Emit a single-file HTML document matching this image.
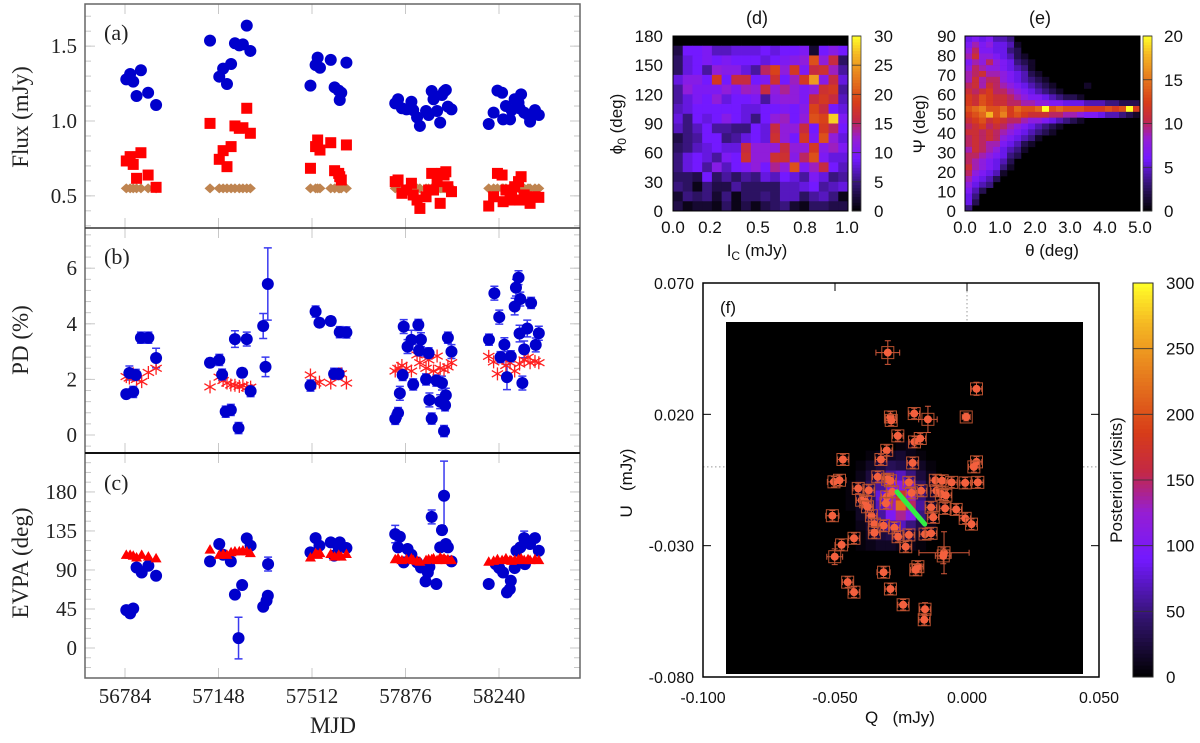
<!DOCTYPE html>
<html><head><meta charset="utf-8">
<style>
html,body{margin:0;padding:0;background:#fff;}
svg{display:block;}
.sr{font-family:"Liberation Serif",serif;fill:#222;}
.ss{font-family:"Liberation Sans",sans-serif;fill:#111;}
</style></head>
<body>
<svg id="fig" width="1200" height="743" viewBox="0 0 1200 743" xmlns="http://www.w3.org/2000/svg"></svg>
<script>
// ---------------- Data: panel (a) flux ----------------
const fluxMjd = [56789,56804,56816,56829,56846,56874,56905,
 57115,57151,57166,57181,57197,57212,57229,57243,57258,57272,
 57506,57526,57534,57543,57585,57600,57616,57626,57620,57646,
 57836,57847,57862,57880,57899,57906,57921,57932,57956,57966,57978,57985,57999,58011,58018,58026,58033,58041,58055,
 58200,58219,58234,58252,58256,58267,58283,58289,58301,58316,58326,58338,58353,58361,58380,58395,58320];
const fluxBlue = [1.278,1.314,1.263,1.167,1.339,1.189,1.107,
 1.537,1.296,1.35,1.247,1.381,1.519,1.505,1.512,1.637,1.468,
 1.236,1.374,1.423,1.356,1.408,1.225,1.203,1.189,1.14,1.39,
 1.118,1.145,1.085,1.078,1.129,1.073,1.024,0.967,1.067,1.04,1.2,1.145,1.067,0.989,1.174,1.196,1.207,1.096,1.078,
 0.98,1.056,1.203,1.189,1.011,1.1,1.011,1.073,1.145,1.122,1.178,1.056,1.04,0.996,1.073,1.04,1.085];
const fluxRed = [0.733,0.762,0.71,0.617,0.788,0.639,0.557,
 0.984,0.744,0.802,0.695,0.829,0.967,0.951,0.955,1.085,0.918,
 0.684,0.829,0.873,0.806,0.855,0.668,0.65,0.606,0.628,0.84,
 0.595,0.606,0.517,0.539,0.584,0.506,0.472,0.416,0.494,0.539,0.65,0.539,0.595,0.45,0.65,0.639,0.661,0.561,0.528,
 0.432,0.494,0.65,0.639,0.461,0.539,0.472,0.528,0.561,0.595,0.628,0.506,0.483,0.45,0.494,0.49,0.472];
const fluxDiamond = [0.55,0.55,0.55,0.55,0.55,0.55,0.55,
 0.55,0.55,0.55,0.55,0.55,0.55,0.55,0.55,0.55,0.55,
 0.55,0.55,0.55,0.55,0.55,0.55,0.55,0.55,0.55,0.55,
 0.55,0.55,0.55,0.55,0.55,0.55,0.55,0.55,0.55,0.55,0.55,0.55,0.55,0.55,0.55,0.55,0.55,0.55,0.55,
 0.55,0.55,0.55,0.55,0.55,0.55,0.55,0.55,0.55,0.55,0.55,0.55,0.55,0.55,0.55,0.55,0.55];
// ---------------- panel (b) PD ----------------
const pdMjd = [56846,56875,56905,56789,56816,56801,56826,
 57115,57151,57212,57258,57322,57340,57331,57162,57176,57196,57226,57240,57273,
 57526,57541,57585,57620,57646,57506,57598,57616,
 57869,57884,57899,57926,57936,57929,57966,58041,58055,57836,57847,57854,57865,57906,57956,57969,57978,57996,58018,58011,58030,58033,58026,
 58201,58222,58241,58261,58246,58286,58301,58306,58316,58323,58320,58350,58338,58365,58383,58395,58271,58331];
const pdBlue = [3.5,3.5,2.77,1.47,1.55,2.23,2.16,
 2.6,2.7,3.45,3.45,3.92,5.43,2.45,2.17,0.84,0.9,0.25,2.24,1.58,
 4.44,4.04,4.1,3.7,3.69,1.78,2.2,2.2,
 3.9,3.18,3.42,3.96,3.43,3.04,2.94,3.5,3.0,0.58,0.79,1.5,2.16,1.82,2.0,1.26,0.59,1.96,1.87,1.2,1.07,1.43,0.14,
 3.43,5.1,4.24,3.25,2.8,2.83,4.62,5.3,5.66,4.89,3.65,3.83,3.08,4.75,3.24,3.66,2.08,1.87];
const pdErr = [0.2,0.2,0.35,0.12,0.2,0.25,0.2,
 0.15,0.2,0.3,0.25,0.45,1.3,0.35,0.2,0.2,0.2,0.2,0.15,0.2,
 0.2,0.15,0.15,0.2,0.2,0.2,0.2,0.2,
 0.25,0.25,0.35,0.2,0.25,0.2,0.2,0.2,0.25,0.2,0.2,0.25,0.2,0.2,0.2,0.25,0.2,0.2,0.25,0.25,0.2,0.25,0.2,
 0.2,0.25,0.25,0.25,0.2,0.2,0.3,0.3,0.25,0.25,0.3,0.3,0.3,0.2,0.25,0.25,0.45,0.25];
const starMjd = [56789,56801,56816,56829,56849,56875,56905,
 57115,57151,57166,57181,57196,57212,57229,57243,57258,57273,
 57506,57526,57541,57585,57600,57616,57626,57646,
 57836,57847,57862,57880,57899,57921,57932,57956,57966,57985,57999,58011,58026,58041,58055,
 58200,58219,58234,58252,58267,58283,58301,58320,58338,58353,58361,58380,58395];
const starPd = [2.1,2.05,2.2,2.0,1.92,2.25,2.4,
 1.73,2.08,1.96,1.87,1.8,1.79,1.75,1.78,1.7,1.72,
 2.16,1.87,1.9,1.87,2.16,2.2,2.2,1.87,
 2.3,2.4,2.5,2.4,2.3,2.88,2.6,2.4,2.7,2.3,2.84,2.4,2.35,2.45,2.6,
 2.83,2.63,2.2,2.75,2.5,2.6,2.3,2.55,2.7,2.8,2.6,2.65,2.6];
// ---------------- panel (c) EVPA ----------------
const evMjd = [56789,56804,56816,56829,56849,56875,56905,
 57115,57151,57166,57196,57212,57226,57240,57258,57273,57322,57335,57340,57341,
 57506,57526,57541,57585,57598,57616,57620,57646,
 57836,57847,57854,57869,57884,57899,57921,57936,57954,57963,57969,57978,57996,58011,58018,58026,58033,58041,58055,
 58200,58227,58241,58256,58271,58282,58286,58301,58308,58323,58341,58338,58361,58380,58395];
const evBlue = [43.7,39.9,45.6,92.9,87.1,94.8,83.3,
 99.9,119.9,107.6,99.9,61.5,11.4,72.6,126.4,118,47.6,54.5,60.3,96.8,
 110.3,126.8,118,121.8,106.5,115.3,121.8,115.3,
 131.4,116,128.3,98.7,114.2,107.6,98.7,92.9,76.8,87.1,93.6,151.2,73.8,116,136,175.6,119.9,116,99.9,
 73.8,96.8,92.2,87.1,64.1,67.9,77.5,92.2,112.2,116,96.8,126.8,119.9,126.8,112.2];
const evErr = [3,3,3,3,3,3,4,
 3,3,3,4,3,24,3,3,3,3,3,3,8,
 3,3,3,3,3,3,3,3,
 10,4,4,3,4,3,3,3,3,3,4,8,3,4,5,40,4,3,3,
 3,3,3,3,5,4,3,3,3,3,3,8,3,3,3];
const triMjd = [56789,56804,56816,56829,56849,56875,56905,
 57115,57151,57166,57181,57197,57212,57229,57243,57258,57272,
 57506,57526,57534,57543,57585,57600,57616,57626,57646,
 57836,57847,57862,57880,57899,57906,57921,57932,57956,57966,57978,57985,57999,58011,58018,58026,58033,58041,58055,
 58200,58219,58234,58252,58267,58283,58289,58301,58316,58326,58338,58353,58361,58380,58395];
const triEv = [108,108,107,105,108,106,104,
 114,108,109,108,111,112,112,113,112,110,
 105,110,108,110,109,106,108,106,109,
 103,104,102,103,104,102,101,100,102,103,103,104,102,105,103,104,102,103,102,
 100,101,103,102,104,102,101,102,103,104,102,103,102,103,102];
// ---------------- panel (d) heatmap (rows top->bottom, phi0 170..0) ----------------
const dRows = [
 [0,0,0,0,0,0,0,0,0,0,0,0,0,0,0,0,0,0],
 [3,9,9,10,7,7,8,8,8,9,8,9,9,10,2,9,11,9],
 [4,8,9,10,9,10,9,9,9,8,9,10,11,12,20,12,16,4],
 [4,8,9,6,12,11,11,8,6,15,19,12,18,10,16,17,13,6],
 [8,11,11,9,18,9,16,16,9,10,17,9,13,18,25,11,16,8],
 [6,12,10,10,10,12,10,13,12,16,12,14,12,10,12,17,18,6],
 [6,8,10,9,12,8,9,9,10,6,11,12,12,10,16,18,16,7],
 [7,8,9,9,9,9,9,8,8,9,9,10,9,11,19,16,9,8],
 [8,5,9,8,9,11,9,8,5,9,12,13,9,12,20,19,28,10],
 [7,5,7,9,6,6,5,5,9,8,16,12,12,16,9,18,15,9],
 [3,5,6,9,9,5,6,8,9,8,17,12,9,18,10,20,12,8],
 [4,5,7,8,9,8,8,16,12,12,12,16,12,12,18,11,13,10],
 [5,8,9,8,6,10,9,17,12,12,17,17,11,15,20,10,8,8],
 [5,8,9,6,11,7,9,10,12,9,14,12,20,10,13,16,9,7],
 [4,4,3,9,4,6,4,6,5,8,7,9,8,6,10,8,5,6],
 [5,4,1,5,3,3,6,4,4,4,4,7,7,8,9,6,7,8],
 [2,5,4,5,2,5,1,4,4,5,4,7,7,4,6,7,5,1],
 [3,1,2,2,1,4,1,3,1,3,4,5,2,1,4,4,3,3]];
// ---------------- panel (e) heatmap: base-21 digits, rows top (Psi 87) -> bottom (0) ----------------
const eRows = [
 "5656443000000000000000000","6867554100000000000000000","7966553200000000000000000",
 "8a77654210000000000000000","6879765321000000000000000","7987765431000000000000000",
 "89a8876542100000000000000","8a89976543210000000000000","9a8a987654321000010000000",
 "a9ab998765432100000000000","bacbaa9876654322100000000","bacbaa9988776655544433222",
 "cdeccdbdccdkcdcccbbbcbckb","bcdgcebcbaaa9988766544321","abcaba9987765432100000000",
 "9ab9a98765432100000000000","aa9a987654321000000000000","9a9a976543100000000000000",
 "9a98865421000000000000000","8a98754310000000000000000","9987653200000000000000000",
 "9876542000000000000000000","a876531000000000000000000","9765410000000000000000000",
 "8654200000000000000000000","7543000000000000000000000","6420000000000000000000000",
 "5300000000000000000000000","5200000000000000000000000","3000000000000000000000000"];
// ---------------- panel (f) ----------------
const qVals = [-0.030,0.0036,-0.020,-0.0148,-0.0003,-0.029,-0.0287,-0.0262,-0.0199,-0.0177,-0.0304,-0.047,-0.0326,-0.0206,0.0036,0.0026,
 -0.0504,-0.0483,-0.0338,-0.0301,-0.029,-0.022,-0.012,-0.0094,-0.0058,-0.0007,0.0041,-0.0412,-0.0372,-0.0174,-0.0116,-0.0097,-0.008,
 -0.0399,-0.0384,-0.0304,-0.0307,-0.0283,-0.021,-0.0136,-0.0083,-0.0041,-0.0007,0.0017,-0.051,-0.0362,-0.0377,-0.0351,-0.0316,-0.0275,
 -0.0351,-0.0261,-0.022,-0.0159,-0.0136,-0.0128,-0.0232,-0.0428,-0.0475,-0.0501,-0.0087,-0.009,-0.0316,-0.0186,-0.0194,-0.0452,-0.0428,-0.029,-0.0242,-0.0159,-0.0162];
const uVals = [0.0435,0.0297,0.0203,0.0181,0.019,0.019,0.0177,0.0118,0.0095,0.0108,0.0063,0.0028,0.0028,0.0015,0.0019,0.0,
 -0.0057,-0.0051,-0.0038,-0.0047,-0.0053,-0.0059,-0.0051,-0.0053,-0.0059,-0.0061,-0.0059,-0.0082,-0.0089,-0.0091,-0.0091,-0.0104,-0.0108,
 -0.0127,-0.0133,-0.0114,-0.0139,-0.0095,-0.0099,-0.0154,-0.0158,-0.0162,-0.0196,-0.0218,-0.0186,-0.0186,-0.0152,-0.0218,-0.0224,-0.0232,
 -0.0251,-0.0266,-0.0259,-0.0256,-0.0253,-0.0192,-0.0304,-0.0272,-0.0297,-0.0342,-0.0327,-0.0339,-0.0401,-0.038,-0.0392,-0.0439,-0.0477,-0.0465,-0.0525,-0.0542,-0.0582];
const qErr = [0.0045,0.002,0.002,0.0035,0.0015,0.002,0.002,0.002,0.002,0.002,0.002,0.002,0.002,0.002,0.002,0.002,
 0.0025,0.0025,0.002,0.002,0.002,0.002,0.002,0.002,0.002,0.002,0.002,0.002,0.002,0.002,0.002,0.002,0.002,
 0.002,0.002,0.002,0.002,0.002,0.002,0.002,0.002,0.002,0.002,0.002,0.0025,0.002,0.002,0.002,0.002,0.002,
 0.002,0.002,0.002,0.002,0.002,0.002,0.002,0.002,0.0025,0.003,0.0095,0.003,0.0025,0.002,0.002,0.002,0.002,0.002,0.002,0.002,0.002];
const uErr = [0.0045,0.0025,0.002,0.005,0.0015,0.002,0.002,0.002,0.002,0.002,0.002,0.002,0.002,0.002,0.002,0.002,
 0.002,0.002,0.002,0.002,0.002,0.002,0.002,0.002,0.002,0.002,0.002,0.002,0.002,0.002,0.002,0.002,0.002,
 0.002,0.002,0.002,0.002,0.002,0.002,0.002,0.002,0.002,0.002,0.002,0.002,0.002,0.002,0.002,0.002,0.002,
 0.002,0.002,0.002,0.002,0.002,0.002,0.002,0.002,0.002,0.003,0.008,0.003,0.002,0.002,0.002,0.002,0.002,0.002,0.002,0.0025,0.002];
const trackQ = [-0.0265,-0.016];
const trackU = [-0.0095,-0.0218];
const postQ0 = -0.046, postDQ = 0.0038, postU0 = 0.010, postDU = 0.0038;
const postRows = [
 [0,0,0,0,0,5,10,0,0,0],[0,0,5,10,15,20,10,5,0,0],[0,5,15,25,35,30,25,15,5,0],
 [0,10,25,40,60,70,50,25,10,0],[5,15,35,60,90,110,80,40,15,5],[5,20,40,80,120,170,120,50,20,5],
 [5,15,40,70,130,220,150,60,20,5],[0,15,30,60,100,140,110,50,15,0],[0,10,20,40,60,70,50,30,10,0],
 [0,5,15,25,30,35,25,15,5,0],[0,5,10,15,15,10,10,5,0,0]];

// ================= drawing =================
const NS = "http://www.w3.org/2000/svg";
const svg = document.getElementById('fig');
function el(tag, attrs, parent) {
  const e = document.createElementNS(NS, tag);
  for (const k in attrs) e.setAttribute(k, attrs[k]);
  (parent || svg).appendChild(e);
  return e;
}
function txt(s, x, y, cls, size, anchor, parent, rot) {
  const t = el('text', {x: x, y: y, class: cls, 'font-size': size, 'text-anchor': anchor || 'middle'}, parent);
  if (rot) t.setAttribute('transform', 'rotate(-90 ' + x + ' ' + y + ')');
  t.textContent = s;
  return t;
}
const stops = [[0,[0,0,0]],[0.15,[50,20,110]],[0.3,[115,25,255]],[0.42,[150,30,210]],[0.52,[195,40,70]],[0.62,[215,60,25]],[0.78,[232,130,30]],[0.9,[245,185,35]],[1,[255,255,40]]];
function pal(t) {
  t = Math.max(0, Math.min(1, t));
  for (let i = 1; i < stops.length; i++) {
    if (t <= stops[i][0]) {
      const a = stops[i-1], b = stops[i], f = (t - a[0]) / (b[0] - a[0]);
      const c = a[1].map((v, j) => Math.round(v + (b[1][j] - v) * f));
      return 'rgb(' + c.join(',') + ')';
    }
  }
  return 'rgb(255,255,40)';
}

// ----- left panels -----
const X0 = 85, X1 = 580;
const xL = m => 125 + (m - 56784) * 0.25687;
const yA = f => 121 - (f - 1) * 149.7;
const yB = p => 435 - p * 27.8;
const yC = e => 648 - e * 0.867;
const panels = [
  {name:'flux-panel', top:4, bot:228, lab:'(a)', laby:40, ticks:[1.5,1.0,0.5], tl:['1.5','1.0','0.5'], fy:yA, minor:[0.3,1.7,0.1], title:'Flux (mJy)', ty:117},
  {name:'pd-panel', top:228, bot:453, lab:'(b)', laby:264, ticks:[6,4,2,0], tl:['6','4','2','0'], fy:yB, minor:[-0.8,7.2,0.4], title:'PD (%)', ty:340},
  {name:'evpa-panel', top:453, bot:678, lab:'(c)', laby:490, ticks:[180,135,90,45,0], tl:['180','135','90','45','0'], fy:yC, minor:[-33.75,225,11.25], title:'EVPA (deg)', ty:563}
];
const xTicks = [56784,57148,57512,57876,58240];
panels.forEach(p => {
  const g = el('g', {});
  
  
  for (let v = p.minor[0]; v <= p.minor[1] + 1e-9; v += p.minor[2]) {
    const y = p.fy(v);
    if (y <= p.top + 1 || y >= p.bot - 1) continue;
    el('line', {x1:X0, x2:X0+6, y1:y, y2:y, stroke:'#c8c8c8', 'stroke-width':1}, g);
    el('line', {x1:X1-6, x2:X1, y1:y, y2:y, stroke:'#c8c8c8', 'stroke-width':1}, g);
  }
  p.ticks.forEach((v, i) => {
    const y = p.fy(v);
    el('line', {x1:X0, x2:X0+10, y1:y, y2:y, stroke:'#c8c8c8', 'stroke-width':1}, g);
    el('line', {x1:X1-10, x2:X1, y1:y, y2:y, stroke:'#c8c8c8', 'stroke-width':1}, g);
    txt(p.tl[i], 77, y + 7, 'sr', 21, 'end', g);
  });
  xTicks.forEach(m => {
    const x = xL(m);
    el('line', {x1:x, x2:x, y1:p.bot, y2:p.bot-10, stroke:'#c8c8c8', 'stroke-width':1}, g);
    el('line', {x1:x, x2:x, y1:p.top, y2:p.top+10, stroke:'#c8c8c8', 'stroke-width':1}, g);
  });
  txt(p.lab, 104, p.laby, 'sr', 22, 'start', g);
  txt(p.title, 28, p.ty, 'sr', 23, 'middle', g, true);
});

// flux marks
const gFlux = el('g', {});


fluxMjd.forEach((m, i) => {
  const x = xL(m), yd = yA(fluxDiamond[i]);
  const d = el('path', {d:`M${x-5.5},${yd}L${x},${yd-5}L${x+5.5},${yd}L${x},${yd+5}Z`, fill:'#bf8450'}, gFlux);
  
  
});
fluxMjd.forEach((m, i) => {
  const x = xL(m), y = yA(fluxRed[i]);
  const r = el('rect', {x:x-5.5, y:y-5.5, width:11, height:11, fill:'#ff0000'}, gFlux);
  
  
});
fluxMjd.forEach((m, i) => {
  const c = el('circle', {cx:xL(m), cy:yA(fluxBlue[i]), r:6, fill:'#0000cc'}, gFlux);
  
  
});

// PD marks
const gPd = el('g', {});


pdMjd.forEach((m, i) => {
  const x = xL(m), y1 = yB(pdBlue[i] + pdErr[i]), y2 = yB(pdBlue[i] - pdErr[i]);
  el('path', {d:`M${x},${y1}V${y2}M${x-4},${y1}H${x+4}M${x-4},${y2}H${x+4}`, stroke:'#3a3af0', 'stroke-width':1.5, fill:'none'}, gPd);
});
starMjd.forEach((m, i) => {
  const x = xL(m), y = yB(starPd[i]), s = 6.5;
  const st = el('path', {d:`M${x},${y-s}V${y+s}M${x-s*0.87},${y-s/2}L${x+s*0.87},${y+s/2}M${x-s*0.87},${y+s/2}L${x+s*0.87},${y-s/2}`, stroke:'#ff2020', 'stroke-width':1.3}, gPd);
  
  
});
pdMjd.forEach((m, i) => {
  const c = el('circle', {cx:xL(m), cy:yB(pdBlue[i]), r:6, fill:'#0000cc'}, gPd);
  
  
});

// EVPA marks
const gEv = el('g', {});


evMjd.forEach((m, i) => {
  const x = xL(m), y1 = yC(evBlue[i] + evErr[i]), y2 = yC(evBlue[i] - evErr[i]);
  el('path', {d:`M${x},${y1}V${y2}M${x-4},${y1}H${x+4}M${x-4},${y2}H${x+4}`, stroke:'#3a3af0', 'stroke-width':1.5, fill:'none'}, gEv);
});
evMjd.forEach((m, i) => {
  const c = el('circle', {cx:xL(m), cy:yC(evBlue[i]), r:6, fill:'#0000cc'}, gEv);
  
  
});
triMjd.forEach((m, i) => {
  const x = xL(m), y = yC(triEv[i]);
  const t = el('path', {d:`M${x-5.5},${y+4.5}L${x},${y-5}L${x+5.5},${y+4.5}Z`, fill:'#ff0000'}, gEv);
  
  
});

// frames
el('rect', {x:X0, y:4, width:X1-X0, height:674, fill:'none', stroke:'#666', 'stroke-width':1.5});
el('line', {x1:X0, x2:X1, y1:228, y2:228, stroke:'#333', 'stroke-width':1.5});
el('line', {x1:X0, x2:X1, y1:453, y2:453, stroke:'#111', 'stroke-width':2});
const xtl = ['56784','57148','57512','57876','58240'];
xTicks.forEach((m, i) => {
  const t = txt(xtl[i], xL(m), 703, 'sr', 21, 'middle');
  
  
});
const mj = txt('MJD', 333, 733, 'sr', 23, 'middle');



// ----- panel (d) -----
const gD = el('g', {});


const dX0 = 673, dX1 = 848, dY0 = 36, dY1 = 211;
const dCw = (dX1 - dX0) / dRows[0].length, dCh = (dY1 - dY0) / dRows.length;
dRows.forEach((row, r) => row.forEach((v, c) => {
  el('rect', {x:dX0 + c*dCw, y:dY0 + r*dCh, width:dCw+0.4, height:dCh+0.4, fill:pal(v/30)}, gD);
}));
el('rect', {x:dX0, y:dY0, width:dX1-dX0, height:dY1-dY0, fill:'none', stroke:'#000', 'stroke-width':1}, gD);
['0','30','60','90','120','150','180'].forEach((s, i) => txt(s, 663, dY1 - i*(dY1-dY0)/6 + 6, 'ss', 17, 'end', gD));
[['0.0',673],['0.2',710],['0.5',758],['0.8',805],['1.0',847]].forEach(a => txt(a[0], a[1], 233, 'ss', 17, 'middle', gD));
txt('(d)', 757, 24, 'ss', 18, 'middle', gD);
const dyl = el('text', {x:622, y:124, class:'ss', 'font-size':17, 'text-anchor':'middle', transform:'rotate(-90 622 124)'}, gD);
dyl.innerHTML = 'ϕ<tspan font-size="12" dy="4">0</tspan><tspan dy="-4"> (deg)</tspan>';
const dxl = el('text', {x:757, y:256, class:'ss', 'font-size':17, 'text-anchor':'middle'}, gD);
dxl.innerHTML = 'I<tspan font-size="12" dy="4">C</tspan><tspan dy="-4"> (mJy)</tspan>';
// colorbar d
const cbD = el('g', {});


for (let i = 0; i < 60; i++) el('rect', {x:852, y:dY1 - (i+1)*(dY1-dY0)/60, width:9, height:(dY1-dY0)/60+0.5, fill:pal((i+0.5)/60)}, cbD);
el('rect', {x:852, y:dY0, width:9, height:dY1-dY0, fill:'none', stroke:'#444', 'stroke-width':0.8}, cbD);
['0','5','10','15','20','25','30'].forEach((s, i) => {
  const y = dY1 - i*(dY1-dY0)/6;
  el('line', {x1:852, x2:861, y1:y, y2:y, stroke:'#333', 'stroke-width':0.8}, cbD);
  txt(s, 874, y + 6, 'ss', 17, 'start', cbD);
});

// ----- panel (e) -----
const gE = el('g', {});


const eX0 = 965, eX1 = 1140, eY0 = 36, eY1 = 211;
el('rect', {x:eX0, y:eY0, width:eX1-eX0, height:eY1-eY0, fill:'#000'}, gE);
const digits = '0123456789abcdefghijk';
const eCw = (eX1 - eX0) / 25, eCh = (eY1 - eY0) / eRows.length;
eRows.forEach((row, r) => row.split('').forEach((ch, c) => {
  const v = digits.indexOf(ch);
  if (v > 0) el('rect', {x:eX0 + c*eCw, y:eY0 + r*eCh, width:eCw+0.3, height:eCh+0.3, fill:pal(Math.min(1, v/18))}, gE);
}));
el('rect', {x:eX0, y:eY0, width:eX1-eX0, height:eY1-eY0, fill:'none', stroke:'#000', 'stroke-width':1}, gE);
['0','10','20','30','40','50','60','70','80','90'].forEach((s, i) => txt(s, 956, eY1 - i*(eY1-eY0)/9 + 6, 'ss', 17, 'end', gE));
['0.0','1.0','2.0','3.0','4.0','5.0'].forEach((s, i) => txt(s, eX0 + i*35, 233, 'ss', 17, 'middle', gE));
txt('(e)', 1040, 24, 'ss', 18, 'middle', gE);
txt('Ψ (deg)', 925, 124, 'ss', 17, 'middle', gE, true);
txt('θ (deg)', 1052, 256, 'ss', 17, 'middle', gE);
const cbE = el('g', {});


for (let i = 0; i < 60; i++) el('rect', {x:1143, y:eY1 - (i+1)*(eY1-eY0)/60, width:9, height:(eY1-eY0)/60+0.5, fill:pal((i+0.5)/60)}, cbE);
el('rect', {x:1143, y:eY0, width:9, height:eY1-eY0, fill:'none', stroke:'#444', 'stroke-width':0.8}, cbE);
['0','5','10','15','20'].forEach((s, i) => {
  const y = eY1 - i*(eY1-eY0)/4;
  el('line', {x1:1143, x2:1152, y1:y, y2:y, stroke:'#333', 'stroke-width':0.8}, cbE);
  txt(s, 1164, y + 6, 'ss', 17, 'start', cbE);
});

// ----- panel (f) -----
const gF = el('g', {});


const fX0 = 703, fX1 = 1099, fY0 = 283, fY1 = 677;
const xQ = q => fX0 + (q + 0.1) / 0.15 * (fX1 - fX0);
const yU = u => fY0 + (0.07 - u) / 0.15 * (fY1 - fY0);
el('line', {x1:xQ(0), x2:xQ(0), y1:fY0, y2:322, stroke:'#999', 'stroke-width':1, 'stroke-dasharray':'1.5 2.5'}, gF);
el('line', {x1:fX0, x2:726, y1:yU(0), y2:yU(0), stroke:'#999', 'stroke-width':1, 'stroke-dasharray':'1.5 2.5'}, gF);
el('line', {x1:1083, x2:fX1, y1:yU(0), y2:yU(0), stroke:'#999', 'stroke-width':1, 'stroke-dasharray':'1.5 2.5'}, gF);
el('rect', {x:726, y:322, width:357, height:352, fill:'#000'}, gF);
postRows.forEach((row, r) => row.forEach((v, c) => {
  if (v <= 0) return;
  const x1 = xQ(postQ0 + c*postDQ), y1 = yU(postU0 - r*postDU);
  el('rect', {x:x1, y:y1, width:xQ(postDQ) - xQ(0) + 0.3, height:yU(0) - yU(postDU) + 0.3, fill:pal(v/300)}, gF);
}));
qVals.forEach((q, i) => {
  const x = xQ(q), y = yU(uVals[i]);
  const xa = xQ(q - qErr[i]), xb = xQ(q + qErr[i]), ya = yU(uVals[i] + uErr[i]), yb = yU(uVals[i] - uErr[i]);
  el('path', {d:`M${xa},${y}H${xb}M${x},${ya}V${yb}M${xa},${y-3}V${y+3}M${xb},${y-3}V${y+3}M${x-3},${ya}H${x+3}M${x-3},${yb}H${x+3}`, stroke:'#d0583a', 'stroke-width':1, fill:'none'}, gF);
  el('rect', {x:x-6, y:y-6, width:12, height:12, fill:'none', stroke:'#b8502e', 'stroke-width':1}, gF);
  const c = el('circle', {cx:x, cy:y, r:4, fill:'#f4603e'}, gF);
  
  
});
const trk = el('line', {x1:xQ(trackQ[0]), y1:yU(trackU[0]), x2:xQ(trackQ[1]), y2:yU(trackU[1]), stroke:'#33ee44', 'stroke-width':5, 'stroke-linecap':'round'}, gF);


el('rect', {x:fX0, y:fY0, width:fX1-fX0, height:fY1-fY0, fill:'none', stroke:'#000', 'stroke-width':1.5}, gF);
const qTicks = [-0.1,-0.05,0,0.05], qtl = ['-0.100','-0.050','0.000','0.050'];
qTicks.forEach((q, i) => {
  const x = xQ(q);
  el('line', {x1:x, x2:x, y1:fY0, y2:fY0+8, stroke:'#000', 'stroke-width':1}, gF);
  txt(qtl[i], x, 703, 'ss', 16, 'middle', gF);
});
const uTicks = [0.07,0.02,-0.03,-0.08], utl = ['0.070','0.020','-0.030','-0.080'];
uTicks.forEach((u, i) => {
  const y = yU(u);
  el('line', {x1:fX1-8, x2:fX1, y1:y, y2:y, stroke:'#000', 'stroke-width':1}, gF);
  el('line', {x1:fX0, x2:fX0+8, y1:y, y2:y, stroke:'#000', 'stroke-width':1}, gF);
  txt(utl[i], 694, y + 6, 'ss', 16, 'end', gF);
});
txt('(f)', 720, 313, 'ss', 17, 'start', gF);
txt('Q\u00a0\u00a0\u00a0(mJy)', 900, 723, 'ss', 17, 'middle', gF);
txt('U\u00a0\u00a0\u00a0(mJy)', 632, 483, 'ss', 17, 'middle', gF, true);
const cbF = el('g', {});


for (let i = 0; i < 100; i++) el('rect', {x:1133, y:fY1 - (i+1)*(fY1-fY0)/100, width:20, height:(fY1-fY0)/100+0.5, fill:pal((i+0.5)/100)}, cbF);
el('rect', {x:1133, y:fY0, width:20, height:fY1-fY0, fill:'none', stroke:'#222', 'stroke-width':1}, cbF);
['0','50','100','150','200','250','300'].forEach((s, i) => {
  const y = fY1 - i*(fY1-fY0)/6;
  el('line', {x1:1133, x2:1153, y1:y, y2:y, stroke:'#333', 'stroke-width':0.8}, cbF);
  txt(s, 1166, y + 6, 'ss', 17, 'start', cbF);
});
txt('Posteriori (visits)', 1122, 480, 'ss', 17, 'middle', cbF, true);
</script>
</body></html>
